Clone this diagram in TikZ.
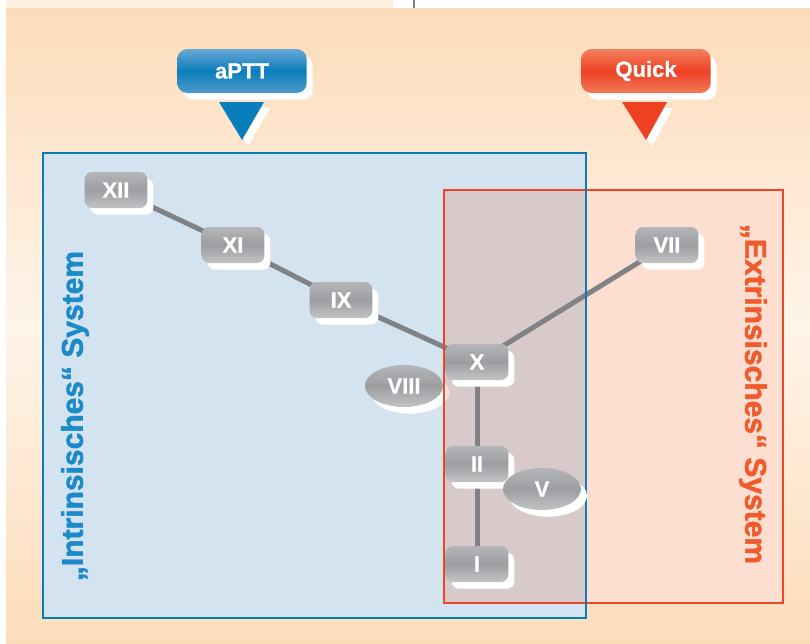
\documentclass[tikz,border=0pt]{standalone}
\usepackage{fontspec}
\setmainfont{Liberation Sans}
\newfontfamily\heavyfont[FakeBold=1.6]{Liberation Sans Bold}
\newfontfamily\semiheavyfont[FakeBold=0.8]{Liberation Sans Bold}
\usetikzlibrary{shadows,shapes.geometric}

\definecolor{bgpeach}{HTML}{FDDCBA}
\definecolor{bgcream}{HTML}{FEF4E9}
\definecolor{stripcream}{HTML}{FDF0E0}
\definecolor{intblue}{HTML}{0B7BB6}
\definecolor{intfill}{HTML}{D3E3F0}
\definecolor{extred}{HTML}{EE4428}
\definecolor{extfill}{HTML}{FCDFD0}
\definecolor{mixfill}{HTML}{D8CACA}
\definecolor{shadepeach}{HTML}{F9DDD0}
\definecolor{linkgray}{HTML}{808285}
\definecolor{labblue}{HTML}{1A8AC8}
\definecolor{labred}{HTML}{F05A2C}
\definecolor{ngtop}{HTML}{B4B5B8}
\definecolor{ngmid}{HTML}{9D9EA2}
\definecolor{ngbot}{HTML}{C2C3C5}
\definecolor{cbtop}{HTML}{68A8D6}
\definecolor{cbmid}{HTML}{0A7EBA}
\definecolor{cbbot}{HTML}{4F98CC}
\definecolor{crtop}{HTML}{F2805E}
\definecolor{crmid}{HTML}{EE4124}
\definecolor{crbot}{HTML}{F07A58}

\pgfdeclarelayer{base}
\pgfdeclarelayer{links}
\pgfdeclarelayer{under}
\pgfdeclarelayer{frames}
\pgfsetlayers{base,links,under,frames,main}

\tikzset{
  whiteshadow/.style={drop shadow={fill=white, opacity=1, shadow xshift=4.5pt, shadow yshift=-5pt}},
  factor/.style={draw=none, rounded corners=5.5pt, minimum width=47pt, minimum height=27pt,
    inner sep=0pt, top color=ngtop, bottom color=ngbot, middle color=ngmid, text=white,
    font=\fontsize{16.5}{19}\semiheavyfont, whiteshadow},
  ellfactor/.style={factor, shape=ellipse, minimum width=58.5pt, minimum height=31.5pt},
  testbox/.style={draw=none, rounded corners=7.5pt, minimum width=97pt, minimum height=33pt,
    inner sep=0pt, text=white, font=\fontsize{16.5}{19}\semiheavyfont, whiteshadow},
  link/.style={linkgray, line width=3.75pt},
  syslabel/.style={inner sep=0pt, font=\fontsize{22.5}{27}\heavyfont},
}

\begin{document}
\begin{tikzpicture}[x=0.75pt,y=-0.75pt]
\useasboundingbox (0,0) rectangle (810,643);

% ---- background and system areas
\begin{pgfonlayer}{base}
  \fill[white] (0,0) rectangle (810,643);
  \fill[stripcream] (6,0) rectangle (393,8);
  \draw[gray, line width=1.1pt] (414,0) -- (414,8);
  \shade[top color=bgpeach, bottom color=bgpeach, middle color=bgcream] (6,8) rectangle (810,643);
  \fill[intfill] (43,153) rectangle (586,618);
  \fill[extfill] (444,190) rectangle (783,603);
  \fill[mixfill] (444,190) rectangle (586,603);
\end{pgfonlayer}

% ---- factor VIII sits below the frame of the extrinsic area
\begin{pgfonlayer}{under}
  \node[ellfactor] (VIII) at (404,386) {VIII};
  \begin{scope}
    \clip (445.5,340) rectangle (470,430);
    \fill[shadepeach] ([xshift=4.5pt,yshift=-5pt]VIII.center) ellipse [x radius=29.25pt, y radius=15.75pt];
    \shade[top color=ngtop, bottom color=ngbot, middle color=ngmid] (VIII.center) ellipse [x radius=29.25pt, y radius=15.75pt];
  \end{scope}
\end{pgfonlayer}

% ---- frames
\begin{pgfonlayer}{frames}
  \draw[extred, line width=2pt] (444,190) rectangle (783,603);
  \draw[intblue, line width=2pt] (43,153) rectangle (586,618);
\end{pgfonlayer}

% ---- factors
\node[factor] (XII) at (116,190) {XII};
\node[factor] (XI)  at (233,245) {XI};
\node[factor] (IX)  at (341,300) {IX};
\node[factor] (X)   at (477,362) {X};
\node[factor] (VII) at (667,245) {VII};
\node[factor] (II)  at (477,464) {II};
\node[factor] (I)   at (477,564) {I};
\node[ellfactor] (V) at (542,489) {V};

% ---- cascade links
\begin{pgfonlayer}{links}
  \draw[link] (XII.center) -- (XI.center) -- (IX.center) -- (X.center) -- (VII.center);
  \draw[link] (X.center) -- (II.center) -- (I.center);
\end{pgfonlayer}

% ---- test markers
\node[testbox, top color=cbtop, bottom color=cbbot, middle color=cbmid] (aptt) at (242,71) {aPTT};
\node[testbox, top color=crtop, bottom color=crbot, middle color=crmid] (quick) at (646,71) {Quick};
\fill[white] (225,108) -- (270,108) -- (248,146) -- cycle;
\fill[cbmid] (219,102) -- (264,102) -- (242,140) -- cycle;
\fill[white] (628,108) -- (673,108) -- (652,146) -- cycle;
\fill[crmid] (622,102) -- (667,102) -- (646,140) -- cycle;

% ---- system labels
\node[syslabel, rotate=90, text=labblue] (intr) at (75,416) {„Intrinsisches“ System};
\node[syslabel, rotate=-90, text=labred] (extr) at (753,394) {„Extrinsisches“ System};
\end{tikzpicture}
\end{document}
